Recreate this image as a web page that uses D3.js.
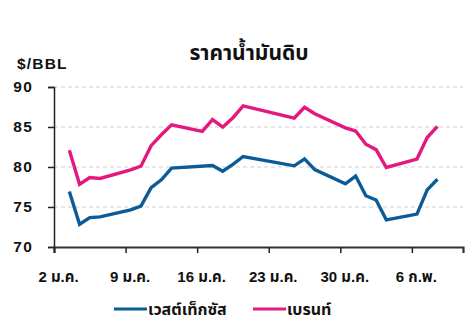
<!DOCTYPE html>
<html>
<head>
<meta charset="utf-8">
<script src="https://cdn.jsdelivr.net/npm/d3@7"></script>
<style>
  body { margin: 0; background: #fff; }
  svg text { font-family: "Liberation Sans", Arial, "Noto Sans Thai", "Noto Sans Thai UI", Kanit, Prompt, sans-serif; font-weight: bold; fill: #111; }
</style>
</head>
<body>
<div id="chart"></div>
<script>
'use strict';

// trading days, Jan - Feb 2023
var dates = [
  '2023-01-03', '2023-01-04', '2023-01-05', '2023-01-06',
  '2023-01-09', '2023-01-10', '2023-01-11', '2023-01-12', '2023-01-13',
  '2023-01-16', '2023-01-17', '2023-01-18', '2023-01-19', '2023-01-20',
  '2023-01-25', '2023-01-26', '2023-01-27',
  '2023-01-30', '2023-01-31', '2023-02-01', '2023-02-02', '2023-02-03',
  '2023-02-06', '2023-02-07', '2023-02-08'
];

// null = no quote that day
var wti = [
  76.93, 72.84, 73.67, 73.77,
  74.63, 75.12, 77.41, 78.39, 79.86,
  null, 80.18, 79.48, 80.33, 81.31,
  80.15, 81.01, 79.68,
  77.90, 78.87, 76.41, 75.88, 73.39,
  74.11, 77.14, 78.47
];

var brent = [
  82.10, 77.84, 78.69, 78.57,
  79.65, 80.10, 82.67, 84.03, 85.28,
  84.46, 85.92, 84.98, 86.16, 87.63,
  86.12, 87.47, 86.66,
  84.90, 84.49, 82.84, 82.17, 79.94,
  80.99, 83.69, 85.09
];

var tickDates = ['2023-01-02', '2023-01-09', '2023-01-16', '2023-01-23', '2023-01-30', '2023-02-06'];
var tickLabels = ['2 ม.ค.', '9 ม.ค.', '16 ม.ค.', '23 ม.ค.', '30 ม.ค.', '6 ก.พ.'];
var yTicks = [70, 75, 80, 85, 90];

var seriesNames = ['เวสต์เท็กซัส', 'เบรนท์'];
var seriesColors = ['#0b5b97', '#e3197f'];

var title = 'ราคาน้ำมันดิบ';
var unit = '$/BBL';

var width = 466, height = 317;
var margins = { top: 87, left: 54, bottom: 70, right: 3 };
var fontList = '"Liberation Sans", Arial, "Noto Sans Thai", "Noto Sans Thai UI", Kanit, Prompt, sans-serif';

var parse = d3.utcParse('%Y-%m-%d');

var svg = d3.select('#chart')
    .append('svg')
    .attr('width', width)
    .attr('height', height);

var x = d3.scaleUtc()
    .domain([parse('2023-01-02'), parse('2023-02-11')])
    .range([margins.left, width - margins.right]);

var y = d3.scaleLinear()
    .domain([70, 90])
    .range([height - margins.bottom, margins.top]);

// grid
svg.append('g')
    .selectAll('line')
    .data(yTicks.filter(function (v) { return v > 70; }))
    .join('line')
    .attr('x1', margins.left)
    .attr('x2', width - margins.right)
    .attr('y1', function (d) { return y(d); })
    .attr('y2', function (d) { return y(d); })
    .attr('stroke', '#d0d0d0')
    .attr('stroke-width', 1.2)
    .attr('stroke-dasharray', '4,3');

// y axis
var yAxis = svg.append('g')
    .attr('transform', 'translate(' + margins.left + ',0)')
    .call(d3.axisLeft(y).tickValues(yTicks).tickSize(6).tickPadding(15).tickFormat(d3.format('d')));
yAxis.select('.domain').attr('stroke', '#222').attr('stroke-width', 1.5);
yAxis.selectAll('.tick line').attr('stroke', '#222').attr('stroke-width', 1.5);
yAxis.selectAll('text')
    .attr('font-size', 15.5)
    .attr('letter-spacing', 1.2)
    .attr('fill', '#111')
    .attr('font-family', fontList)
    .attr('font-weight', 'bold');

// x axis
var xAxis = svg.append('g')
    .attr('transform', 'translate(0,' + y(70) + ')')
    .call(d3.axisBottom(x)
        .tickValues(tickDates.map(parse))
        .tickSize(6)
        .tickPadding(18)
        .tickFormat(function (d, i) { return tickLabels[i]; }));
xAxis.select('.domain').attr('stroke', '#333').attr('stroke-width', 2.2);
xAxis.selectAll('.tick line').attr('stroke', '#222').attr('stroke-width', 1.5);
xAxis.selectAll('text')
    .attr('dx', 4)
    .attr('font-size', 15)
    .attr('fill', '#111')
    .attr('font-family', fontList)
    .attr('font-weight', 'bold');

// lines, points plotted at midday
var line = d3.line()
    .x(function (d) { return x(d3.utcHour.offset(d.date, 12)); })
    .y(function (d) { return y(d.value); });

[wti, brent].forEach(function (values, k) {
  var pts = dates.map(function (d, i) { return { date: parse(d), value: values[i] }; })
      .filter(function (p) { return p.value !== null; });
  svg.append('path')
      .datum(pts)
      .attr('d', line)
      .attr('fill', 'none')
      .attr('stroke', seriesColors[k])
      .attr('stroke-width', 3.4)
      .attr('stroke-linejoin', 'miter');
});

// titles
svg.append('text')
    .attr('x', 249)
    .attr('y', 60)
    .attr('text-anchor', 'middle')
    .attr('font-size', 21)
    .text(title);

svg.append('text')
    .attr('x', 17)
    .attr('y', 69)
    .attr('font-size', 15.5)
    .attr('letter-spacing', 1.2)
    .text(unit);

// legend
var legendX = [114, 253];
var legend = svg.append('g')
    .selectAll('g')
    .data(seriesNames)
    .join('g')
    .attr('transform', function (d, i) { return 'translate(' + legendX[i] + ',309)'; });

legend.append('line')
    .attr('x1', 0).attr('x2', 33)
    .attr('stroke', function (d, i) { return seriesColors[i]; })
    .attr('stroke-width', 3.2);

legend.append('text')
    .attr('x', 34)
    .attr('y', 6)
    .attr('font-size', 16)
    .text(function (d) { return d; });
</script>
</body>
</html>
